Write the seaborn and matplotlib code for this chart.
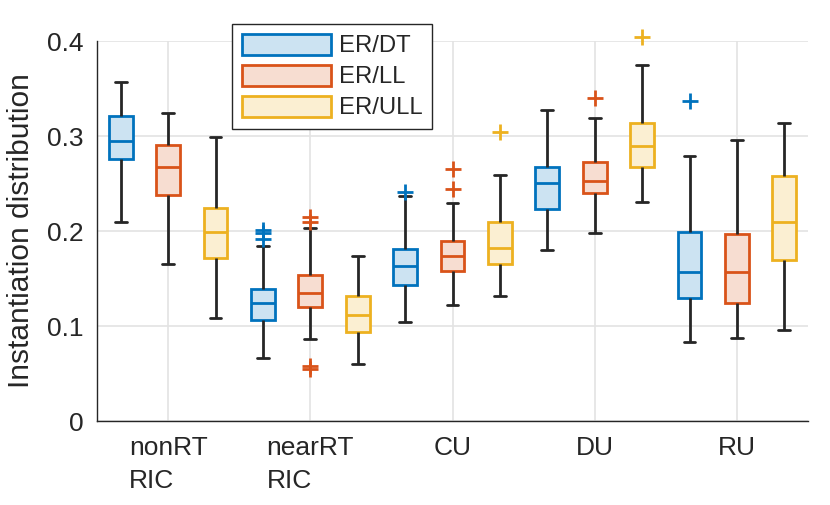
import numpy as np
import pandas as pd
import matplotlib
matplotlib.use("Agg")
import matplotlib.pyplot as plt
import matplotlib.colors as mcolors
from matplotlib.patches import Patch
import seaborn as sns

# categories and series
categories = ["nonRT\nRIC", "nearRT\nRIC", "CU", "DU", "RU"]
series = ["ER/DT", "ER/LL", "ER/ULL"]
colors = ["#0072BD", "#D95319", "#EDB120"]

# box statistics (one value per category)
## ER/DT
dt_lo = [0.209, 0.066, 0.104, 0.180, 0.083]
dt_q1 = [0.276, 0.106, 0.143, 0.223, 0.130]
dt_med = [0.295, 0.124, 0.163, 0.251, 0.157]
dt_q3 = [0.321, 0.139, 0.181, 0.267, 0.199]
dt_hi = [0.357, 0.184, 0.237, 0.327, 0.279]
dt_out = [[], [0.201, 0.198, 0.192], [0.241], [], [0.337]]
## ER/LL
ll_lo = [0.165, 0.086, 0.122, 0.198, 0.087]
ll_q1 = [0.238, 0.120, 0.158, 0.240, 0.124]
ll_med = [0.267, 0.135, 0.174, 0.253, 0.157]
ll_q3 = [0.291, 0.154, 0.189, 0.273, 0.197]
ll_hi = [0.324, 0.203, 0.230, 0.319, 0.296]
ll_out = [[], [0.215, 0.209, 0.058, 0.055], [0.265, 0.244], [0.340], []]
## ER/ULL
ull_lo = [0.108, 0.060, 0.132, 0.231, 0.096]
ull_q1 = [0.172, 0.094, 0.165, 0.267, 0.169]
ull_med = [0.199, 0.112, 0.182, 0.289, 0.209]
ull_q3 = [0.224, 0.132, 0.210, 0.314, 0.258]
ull_hi = [0.299, 0.174, 0.259, 0.375, 0.314]
ull_out = [[], [], [0.304], [0.404], []]

stats = {
    "ER/DT": (dt_lo, dt_q1, dt_med, dt_q3, dt_hi, dt_out),
    "ER/LL": (ll_lo, ll_q1, ll_med, ll_q3, ll_hi, ll_out),
    "ER/ULL": (ull_lo, ull_q1, ull_med, ull_q3, ull_hi, ull_out),
}

## long table whose quartiles / whiskers / fliers reproduce the stats above
rows = []
for s in series:
    lo, q1, med, q3, hi, out = stats[s]
    for i, c in enumerate(categories):
        vals = [lo[i]] + [q1[i]] * 20 + [med[i]] * 20 + [q3[i]] * 20 + [hi[i]] + out[i]
        for v in vals:
            rows.append({"cat": c, "series": s, "val": v})
df = pd.DataFrame(rows)

# plot
sns.set_style("white")
plt.rcParams["font.family"] = ["Liberation Sans", "DejaVu Sans"]
plt.rcParams["font.size"] = 19

dark = "#262626"
fig = plt.figure(figsize=(8.3, 5.05), dpi=100)
ax = fig.add_axes([0.1169, 0.1663, 0.8566, 0.7525])

sns.boxplot(data=df, x="cat", y="val", hue="series", order=categories,
            hue_order=series, palette=colors, saturation=1, width=1.0, gap=0.5,
            whis=1.5, linewidth=1.5, linecolor=dark, legend=False,
            flierprops=dict(marker="+", markersize=11, markeredgewidth=2),
            ax=ax)

def light(c, a=0.2):
    r = np.array(mcolors.to_rgb(c))
    return tuple(a * r + (1 - a))

lookup = {mcolors.to_hex(c): c for c in colors}
for cont in ax.containers:
    fc = mcolors.to_hex(cont.boxes[0].get_facecolor()[:3])
    col = lookup.get(fc, colors[0])
    for b in cont.boxes:
        b.set_facecolor(light(col))
        b.set_edgecolor(col)
        b.set_linewidth(2)
    for m in cont.medians:
        m.set_color(col)
        m.set_linewidth(2)
    for f in cont.fliers:
        f.set_markeredgecolor(col)
        f.set_clip_on(False)
    for w in list(cont.whiskers) + list(cont.caps):
        w.set_color(dark)
        w.set_linewidth(2)

ax.set_xlim(-0.5, 4.5)
ax.set_ylim(0, 0.4)
ax.set_yticks([0, 0.1, 0.2, 0.3, 0.4])
ax.set_yticklabels(["0", "0.1", "0.2", "0.3", "0.4"])
ax.set_xlabel("")
ax.set_ylabel("Instantiation distribution", fontsize=21.5, labelpad=8)
ax.grid(True, color="#e3e3e3", linewidth=1.2)
ax.set_axisbelow(True)
ax.tick_params(direction="in", length=5, color=dark, labelcolor=dark)
ax.tick_params(axis="x", pad=11)
ax.tick_params(axis="y", pad=10)
for lbl in ax.get_xticklabels():
    lbl.set_multialignment("left")
    lbl.set_linespacing(1.45)
sns.despine(ax=ax)
for sp in ["left", "bottom"]:
    ax.spines[sp].set_color(dark)
    ax.spines[sp].set_linewidth(1)

handles = [Patch(facecolor=light(c), edgecolor=c, linewidth=2) for c in colors]
leg = fig.legend(handles, series, loc="upper left", bbox_to_anchor=(0.2795, 0.9525),
                 frameon=True, fancybox=False, edgecolor=dark, framealpha=1,
                 fontsize=17.2, handlelength=3.76, handleheight=1.0,
                 handletextpad=0.3, labelspacing=0.3, borderpad=0.4,
                 borderaxespad=0)
leg.get_frame().set_linewidth(1)

fig.savefig("out.png", dpi=100)
